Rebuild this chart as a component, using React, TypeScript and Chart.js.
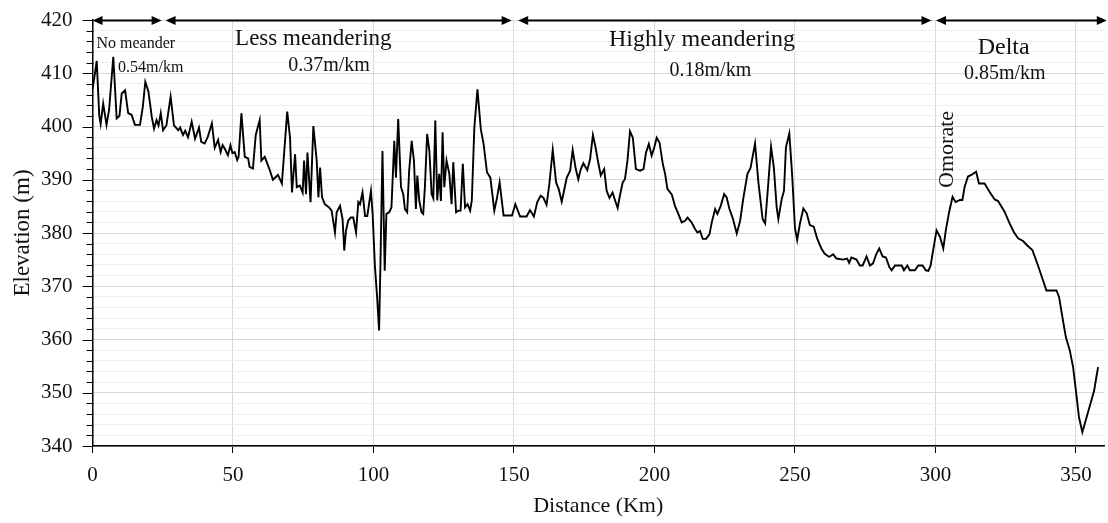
import React, { useEffect, useRef } from "react";
import { Chart, registerables } from "chart.js";

Chart.register(...registerables);

const distanceKm = [
  0, 0.6, 1.5, 2.4, 2.9, 3.8, 5.0, 5.9, 7.4, 8.6, 9.6, 10.4, 11.6, 12.7, 13.9, 15.1, 16.9, 17.9, 18.8, 19.9,
  21.1, 21.9, 22.8, 23.5, 24.3, 25.1, 26.3, 27.8, 29.0, 30.5, 31.2, 32.2, 33.0, 34.0, 35.3, 36.5, 37.9, 38.7, 39.9, 41.0,
  42.5, 43.5, 44.7, 45.6, 46.3, 47.0, 48.2, 49.1, 49.8, 50.6, 51.5, 52.0, 53.0, 54.2, 55.4, 55.9, 57.1, 58.1, 59.5, 60.1,
  61.3, 63.1, 64.2, 66.0, 67.4, 69.3, 70.3, 71.0, 72.1, 72.7, 73.8, 74.8, 75.3, 76.0, 76.5, 77.6, 78.6, 79.8, 80.4, 81.0,
  81.7, 82.7, 84.2, 85.1, 86.3, 86.9, 88.1, 89.0, 89.6, 90.2, 91.0, 91.9, 92.8, 93.8, 94.6, 95.2, 96.1, 97.0, 97.8, 99.1,
  99.7, 100.5, 101.3, 102.0, 102.5, 103.2, 104.0, 104.6, 105.6, 106.4, 107.4, 108.0, 108.8, 109.8, 110.6, 111.2, 112.0, 112.7, 113.6, 114.4,
  115.1, 115.6, 116.3, 117.1, 117.7, 118.3, 119.1, 119.9, 120.7, 121.3, 122.0, 122.7, 123.4, 124.0, 124.6, 125.2, 126.0, 127.0, 127.8, 128.4,
  129.4, 130.2, 131.0, 131.8, 132.6, 133.5, 134.4, 135.0, 135.9, 137.0, 138.2, 139.2, 140.4, 141.6, 143.0, 144.0, 144.9, 146.3, 149.3, 150.5,
  152.2, 154.5, 155.7, 157.1, 158.3, 159.5, 160.5, 161.6, 162.6, 163.8, 165.0, 165.9, 167.0, 167.8, 168.8, 170.0, 170.9, 172.0, 172.9, 173.8,
  174.7, 176.1, 177.1, 178.1, 179.0, 180.1, 180.9, 182.1, 183.0, 184.0, 185.1, 186.0, 186.9, 187.7, 188.7, 189.5, 190.4, 191.3, 192.3, 193.4,
  194.9, 196.1, 197.0, 198.0, 199.0, 200.0, 200.8, 201.8, 203.0, 203.8, 204.6, 206.2, 207.3, 208.5, 209.7, 210.9, 211.8, 213.2, 214.4, 215.3,
  216.2, 217.2, 218.4, 219.6, 220.4, 221.6, 222.4, 223.6, 224.8, 225.7, 226.7, 227.8, 229.3, 230.5, 231.6, 233.1, 234.2, 235.8, 237.0, 238.5,
  239.4, 240.5, 241.5, 242.5, 243.5, 244.1, 245.3, 246.1, 246.8, 248.0, 249.0, 250.0, 250.8, 251.8, 253.0, 254.2, 255.3, 256.7, 257.9, 259.4,
  260.6, 262.2, 263.6, 264.8, 267.2, 268.6, 269.3, 270.1, 271.9, 273.1, 274.1, 275.5, 276.7, 277.8, 279.0, 280.0, 281.2, 282.4, 283.6, 284.4,
  285.6, 288.0, 288.8, 290.0, 290.9, 292.7, 293.9, 295.4, 296.6, 297.5, 298.3, 299.2, 300.4, 301.6, 302.8, 303.7, 304.9, 306.1, 307.2, 308.7,
  309.6, 310.4, 311.6, 312.8, 313.6, 314.5, 315.5, 317.5, 319.3, 321.1, 322.3, 324.6, 326.4, 327.9, 329.4, 331.2, 332.6, 334.5, 336.5, 338.1,
  339.5, 343.1, 344.0, 345.2, 346.4, 347.8, 349.0, 350.0, 351.1, 352.3, 353.8, 355.2, 356.5, 357.3, 357.9,
];

const elevationM = [
  407, 409, 412.3, 402.1, 400.5, 404.3, 400.3, 403.1, 413.1, 401.5, 402, 406.2, 406.8, 402.5, 402.2, 400.3, 400.3, 403.7, 408.4, 406.6,
  401.8, 399.6, 401.2, 400.2, 402.5, 399.3, 400.2, 405.6, 400.2, 399.3, 399.8, 398.4, 399.2, 398, 400.9, 397.7, 399.8, 397.1, 396.8, 398,
  400.6, 396, 397.5, 395.2, 396.5, 395.9, 394.6, 396.5, 395, 395.2, 393.7, 394.3, 402.5, 394.3, 394, 392.4, 392.1, 398.4, 401.2, 393.6,
  394.3, 391.8, 390, 390.9, 389.3, 402.8, 397.9, 387.6, 394.8, 388.6, 388.9, 387.6, 393.6, 387.3, 395.1, 385.8, 400.1, 393.6, 386.7, 392.3,
  386.7, 385.4, 384.8, 384.2, 380.1, 383.9, 385.1, 382.6, 376.7, 380.4, 382.3, 382.9, 382.9, 380.1, 385.8, 385.4, 387.6, 383.2, 383.2, 387.9,
  383.6, 373.9, 367.9, 361.7, 374.8, 395.4, 372.9, 383.6, 383.9, 384.8, 397.3, 390.4, 401.4, 388.6, 387.3, 384.5, 383.9, 391.7, 397.3, 393.6,
  384.5, 390.8, 386.1, 383.9, 383.6, 388.6, 398.6, 395.4, 387.3, 386.5, 401.1, 386.1, 391.1, 386, 398.9, 388.6, 393.6, 391.1, 385.4, 393.3,
  383.9, 384.2, 384.2, 393, 384.8, 385.4, 384.2, 386.1, 399.8, 407, 399.5, 396.7, 391.4, 390.4, 384.2, 386.7, 389.5, 383.3, 383.3, 385.4,
  383.1, 383.1, 384.3, 383.1, 385.8, 387, 386.6, 385.3, 389.2, 395.6, 389.5, 388.3, 385.9, 387.9, 390.4, 391.7, 395.6, 392, 390.1, 392,
  393.1, 391.8, 393.9, 398.4, 396.2, 392.9, 390.8, 392, 387.9, 386.6, 387.6, 386.1, 384.7, 387, 389.5, 390.1, 393.6, 399.1, 397.9, 392,
  391.7, 392, 395.1, 396.7, 394.5, 396.2, 397.9, 397, 392.9, 391.1, 388.3, 387.2, 385.1, 383.6, 382, 382.3, 382.9, 382, 380.8, 380.1,
  380.4, 378.9, 378.9, 379.8, 382, 384.5, 383.6, 385.1, 387.3, 386.7, 384.5, 382.9, 379.9, 382.3, 386.4, 391.1, 392.2, 396.8, 389.5, 382.6,
  381.8, 389.2, 396.2, 392.3, 384.8, 382.6, 386.4, 387.9, 396.1, 398.7, 391, 381, 378.7, 381.8, 384.6, 383.7, 381.5, 381.2, 379, 377.1,
  376.1, 375.5, 376, 375.2, 375, 375.2, 374.4, 375.4, 375, 373.9, 373.9, 375.6, 373.9, 374.3, 376.1, 377.1, 375.6, 375.4, 373.6, 373,
  373.9, 373.9, 373, 373.9, 373, 373, 373.9, 373.9, 373, 372.9, 373.9, 376.8, 380.5, 379.3, 377.1, 380.5, 384, 386.8, 385.8, 386.2,
  386.2, 388.7, 390.6, 390.9, 391.2, 391.5, 389.3, 389.3, 387.7, 386.3, 386, 384, 381.8, 380.2, 379, 378.5, 377.7, 376.8, 373.9, 371.4,
  369.2, 369.2, 368, 364.2, 360.5, 358, 354.8, 350.4, 345.4, 342.6, 345.4, 348, 350.4, 353, 354.8,
];

const xTickValues = [0, 50, 100, 150, 200, 250, 300, 350];
const yMajorValues = [340, 350, 360, 370, 380, 390, 400, 410, 420];

// Reach segments (double-headed arrows along the top), in km
const reachStartKm = [0, 26.0, 151.5, 300.2];
const reachEndKm = [24.6, 149.2, 298.6, 361];

// Annotation texts: anchor in data units (km, m)
const noteTexts = ["No meander", "0.54m/km", "Less meandering", "0.37m/km", "Highly meandering", "0.18m/km", "Delta", "0.85m/km"];
const noteKm = [15.4, 20.7, 78.6, 84.2, 216.9, 219.9, 324.3, 324.7];
const noteElev = [414.7, 410.3, 415.3, 410.4, 415.2, 409.5, 413.7, 408.9];
const noteSize = [16, 16, 23, 20, 24, 20, 24, 20];

const placeText = "Omorate";
const placeKm = 306.1;
const placeElev = 395.7;

const FONT = "'Liberation Serif', 'Times New Roman', serif";

const annotationPlugin = {
  id: "profileAnnotations",
  afterDraw(chart: any) {
    const { ctx, chartArea } = chart;
    const xs = chart.scales.x;
    const ys = chart.scales.y;
    ctx.save();

    // y-axis tick marks (major longer than minor)
    ctx.strokeStyle = "#000";
    ctx.lineWidth = 1;
    ys.ticks.forEach((t: any) => {
      const py = Math.round(ys.getPixelForValue(t.value)) + 0.5;
      const major = yMajorValues.indexOf(t.value) >= 0;
      const len = major ? 10 : 6;
      ctx.beginPath();
      ctx.moveTo(chartArea.left - len, py);
      ctx.lineTo(chartArea.left + (major ? 0 : 1), py);
      ctx.stroke();
    });

    // reach arrows
    const ay = ys.getPixelForValue(420) + 0.5;
    ctx.strokeStyle = "#000";
    ctx.fillStyle = "#000";
    ctx.lineWidth = 2;
    const headL = 10;
    const headW = 4.5;
    for (let i = 0; i < reachStartKm.length; i++) {
      const a = xs.getPixelForValue(reachStartKm[i]);
      const b = xs.getPixelForValue(reachEndKm[i]);
      ctx.beginPath();
      ctx.moveTo(a + headL - 1, ay);
      ctx.lineTo(b - headL + 1, ay);
      ctx.stroke();
      ctx.beginPath();
      ctx.moveTo(a, ay);
      ctx.lineTo(a + headL, ay - headW);
      ctx.lineTo(a + headL, ay + headW);
      ctx.closePath();
      ctx.fill();
      ctx.beginPath();
      ctx.moveTo(b, ay);
      ctx.lineTo(b - headL, ay - headW);
      ctx.lineTo(b - headL, ay + headW);
      ctx.closePath();
      ctx.fill();
    }

    // labels
    ctx.fillStyle = "#111";
    ctx.textAlign = "center";
    ctx.textBaseline = "alphabetic";
    for (let i = 0; i < noteTexts.length; i++) {
      ctx.font = `${noteSize[i]}px ${FONT}`;
      ctx.fillText(noteTexts[i], xs.getPixelForValue(noteKm[i]), ys.getPixelForValue(noteElev[i]));
    }

    // rotated place name
    ctx.save();
    ctx.translate(xs.getPixelForValue(placeKm), ys.getPixelForValue(placeElev));
    ctx.rotate(-Math.PI / 2);
    ctx.font = `22px ${FONT}`;
    ctx.fillText(placeText, 0, 0);
    ctx.restore();

    ctx.restore();
  },
};

export default function App() {
  const canvasRef = useRef<HTMLCanvasElement | null>(null);

  useEffect(() => {
    const canvas = canvasRef.current;
    if (!canvas) return;
    const points = distanceKm.map((d, i) => ({ x: d, y: elevationM[i] }));

    const chart = new Chart(canvas, {
      type: "line",
      data: {
        datasets: [
          {
            label: "Elevation",
            data: points,
            borderColor: "#000",
            borderWidth: 1.9,
            pointRadius: 0,
            tension: 0,
            fill: false,
          },
        ],
      },
      options: {
        animation: false,
        responsive: false,
        maintainAspectRatio: false,
        layout: { padding: { left: 0, top: 20, right: 4, bottom: 0 } },
        plugins: {
          legend: { display: false },
          tooltip: { enabled: false },
        },
        scales: {
          x: {
            type: "linear",
            min: 0,
            max: 360,
            afterBuildTicks: (scale: any) => {
              scale.ticks = xTickValues.map((v) => ({ value: v }));
            },
            afterFit: (scale: any) => {
              scale.height = 77;
              scale.paddingLeft = 0;
              scale.paddingRight = 0;
            },
            grid: {
              color: "#d9d9d9",
              lineWidth: 1,
              drawTicks: true,
              tickLength: 7,
              tickColor: "#000",
            },
            border: { color: "#000", width: 1.5 },
            ticks: {
              autoSkip: false,
              maxRotation: 0,
              padding: 10,
              color: "#111",
              font: { family: FONT, size: 21 },
            },
            title: {
              display: true,
              text: "Distance (Km)",
              color: "#111",
              font: { family: FONT, size: 22 },
              padding: { top: 0, bottom: 4 },
            },
          },
          y: {
            type: "linear",
            min: 340,
            max: 420,
            afterFit: (scale: any) => {
              scale.width = 92.5;
              scale.paddingTop = 0;
              scale.paddingBottom = 0;
            },
            grid: {
              color: (c: any) => (c.tick && yMajorValues.indexOf(c.tick.value) >= 0 ? "#d9d9d9" : "#efefef"),
              lineWidth: 1,
              drawTicks: false,
            },
            border: { color: "#000", width: 1.5 },
            ticks: {
              stepSize: 2,
              autoSkip: false,
              padding: 20,
              color: "#111",
              font: { family: FONT, size: 21 },
              callback: (v: any) => (yMajorValues.indexOf(Number(v)) >= 0 ? String(v) : ""),
            },
            title: {
              display: true,
              text: "Elevation (m)",
              color: "#111",
              font: { family: FONT, size: 23 },
              padding: { top: 9, bottom: 0 },
            },
          },
        },
      },
      plugins: [annotationPlugin],
    });

    return () => chart.destroy();
  }, []);

  return (
    <div style={{ position: "fixed", left: 0, top: 0, width: 1108, height: 523, background: "#fff" }}>
      <canvas ref={canvasRef} width={1108} height={523} style={{ display: "block", width: 1108, height: 523 }} />
    </div>
  );
}
